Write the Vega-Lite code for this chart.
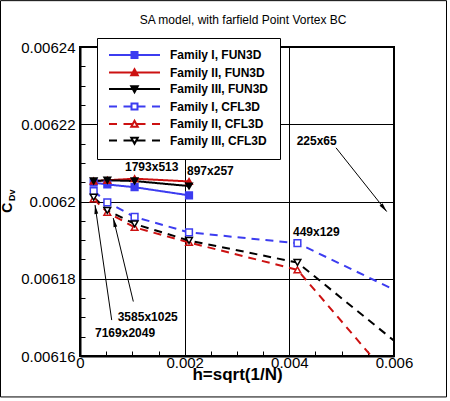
{
  "$schema": "https://vega.github.io/schema/vega-lite/v6.json",
  "width": 314,
  "height": 309,
  "autosize": {"type": "none"},
  "padding": {"left": 80, "top": 47, "right": 56, "bottom": 45},
  "config": {"font": "Liberation Sans", "view": {"stroke": "black", "strokeWidth": 2}},
  "datasets": {
    "series": [
      {"series": "Family I, FUN3D", "h": 0.000261, "cd": 0.0062049},
      {"series": "Family I, FUN3D", "h": 0.000522, "cd": 0.0062044},
      {"series": "Family I, FUN3D", "h": 0.001043, "cd": 0.0062037},
      {"series": "Family I, FUN3D", "h": 0.002083, "cd": 0.0062016},
      {"series": "Family II, FUN3D", "h": 0.000261, "cd": 0.0062053},
      {"series": "Family II, FUN3D", "h": 0.000522, "cd": 0.0062055},
      {"series": "Family II, FUN3D", "h": 0.001043, "cd": 0.0062059},
      {"series": "Family II, FUN3D", "h": 0.002083, "cd": 0.0062052},
      {"series": "Family III, FUN3D", "h": 0.000261, "cd": 0.0062053},
      {"series": "Family III, FUN3D", "h": 0.000522, "cd": 0.0062055},
      {"series": "Family III, FUN3D", "h": 0.001043, "cd": 0.0062053},
      {"series": "Family III, FUN3D", "h": 0.002083, "cd": 0.006204},
      {"series": "Family I, CFL3D", "h": 0.000261, "cd": 0.0062027},
      {"series": "Family I, CFL3D", "h": 0.000522, "cd": 0.0061998},
      {"series": "Family I, CFL3D", "h": 0.001043, "cd": 0.006196},
      {"series": "Family I, CFL3D", "h": 0.002083, "cd": 0.006192},
      {"series": "Family I, CFL3D", "h": 0.004155, "cd": 0.0061892},
      {"series": "Family I, CFL3D", "h": 0.008269, "cd": 0.0061624},
      {"series": "Family II, CFL3D", "h": 0.000261, "cd": 0.0062007},
      {"series": "Family II, CFL3D", "h": 0.000522, "cd": 0.0061972},
      {"series": "Family II, CFL3D", "h": 0.001043, "cd": 0.0061933},
      {"series": "Family II, CFL3D", "h": 0.002083, "cd": 0.0061894},
      {"series": "Family II, CFL3D", "h": 0.004155, "cd": 0.0061823},
      {"series": "Family II, CFL3D", "h": 0.008269, "cd": 0.0061172},
      {"series": "Family III, CFL3D", "h": 0.000261, "cd": 0.0062011},
      {"series": "Family III, CFL3D", "h": 0.000522, "cd": 0.0061977},
      {"series": "Family III, CFL3D", "h": 0.001043, "cd": 0.0061942},
      {"series": "Family III, CFL3D", "h": 0.002083, "cd": 0.0061899},
      {"series": "Family III, CFL3D", "h": 0.004155, "cd": 0.0061842},
      {"series": "Family III, CFL3D", "h": 0.008269, "cd": 0.0061391}
    ],
    "labels": [
      {"text": "1793x513", "h": 0.00086, "cd": 0.006209},
      {"text": "897x257", "h": 0.002045, "cd": 0.006208},
      {"text": "449x129", "h": 0.00407, "cd": 0.0061922},
      {"text": "225x65", "h": 0.00414, "cd": 0.0062157},
      {"text": "3585x1025", "h": 0.00072, "cd": 0.0061702},
      {"text": "7169x2049", "h": 0.000287, "cd": 0.006166}
    ],
    "arrows": [
      {"grid": "225x65", "h": 0.004892, "cd": 0.0062139, "h2": 0.00586, "cd2": 0.0061974},
      {"grid": "3585x1025", "h": 0.001019, "cd": 0.0061741, "h2": 0.000636, "cd2": 0.0061957},
      {"grid": "7169x2049", "h": 0.000606, "cd": 0.0061693, "h2": 0.000287, "cd2": 0.0061991}
    ]
  },
  "resolve": {"axis": {"x": "independent", "y": "independent"}},
  "layer": [
    {
      "layer": [
        {
          "data": {"name": "series"},
          "mark": {"type": "line", "clip": true, "strokeWidth": 2},
          "encoding": {
            "x": {
              "field": "h", "type": "quantitative",
              "scale": {"domain": [0, 0.006], "nice": false, "zero": false},
              "axis": {
                "values": [0, 0.002, 0.004, 0.006], "format": "~g",
                "grid": true, "gridColor": "black", "gridOpacity": 1, "gridWidth": 1,
                "tickSize": -8, "tickColor": "black", "tickWidth": 1,
                "domainColor": "black", "domainWidth": 2,
                "labelFontSize": 15, "labelColor": "black", "labelPadding": 7, "labelFlush": false, "labelOverlap": false,
                "title": "h=sqrt(1/N)", "titleFontSize": 17, "titleFontWeight": "bold", "titleColor": "black", "titlePadding": -4
              }
            },
            "y": {
              "field": "cd", "type": "quantitative",
              "scale": {"domain": [0.00616, 0.00624], "nice": false, "zero": false},
              "axis": {
                "values": [0.00616, 0.00618, 0.0062, 0.00622, 0.00624], "format": "~g",
                "grid": true, "gridColor": "black", "gridOpacity": 1, "gridWidth": 1,
                "tickSize": -8, "tickColor": "black", "tickWidth": 1,
                "domainColor": "black", "domainWidth": 2,
                "labelFontSize": 15, "labelColor": "black", "labelPadding": 13, "labelFlush": false, "labelOverlap": false,
                "title": null
              }
            },
            "detail": {"field": "series", "type": "nominal"},
            "stroke": {
              "condition": [
                {"test": "datum.series === 'Family I, FUN3D' || datum.series === 'Family I, CFL3D'", "value": "#3c3cf0"},
                {"test": "datum.series === 'Family II, FUN3D' || datum.series === 'Family II, CFL3D'", "value": "#cc1111"}
              ],
              "value": "black"
            },
            "strokeDash": {
              "condition": {"test": "datum.series === 'Family I, CFL3D' || datum.series === 'Family II, CFL3D' || datum.series === 'Family III, CFL3D'", "value": [8, 6]},
              "value": [1, 0]
            }
          }
        },
        {
          "data": {"name": "series"},
          "mark": {"type": "point", "clip": true, "filled": true, "opacity": 1, "size": 45, "strokeWidth": 1.5},
          "encoding": {
            "x": {"field": "h", "type": "quantitative"},
            "y": {"field": "cd", "type": "quantitative"},
            "shape": {
              "condition": [
                {"test": "datum.series === 'Family III, FUN3D' || datum.series === 'Family III, CFL3D'", "value": "triangle-down"},
                {"test": "datum.series === 'Family II, FUN3D' || datum.series === 'Family II, CFL3D'", "value": "triangle-up"}
              ],
              "value": "square"
            },
            "stroke": {
              "condition": [
                {"test": "datum.series === 'Family I, FUN3D' || datum.series === 'Family I, CFL3D'", "value": "#3c3cf0"},
                {"test": "datum.series === 'Family II, FUN3D' || datum.series === 'Family II, CFL3D'", "value": "#cc1111"}
              ],
              "value": "black"
            },
            "fill": {
              "condition": [
                {"test": "datum.series === 'Family I, CFL3D' || datum.series === 'Family II, CFL3D' || datum.series === 'Family III, CFL3D'", "value": "white"},
                {"test": "datum.series === 'Family I, FUN3D'", "value": "#3c3cf0"},
                {"test": "datum.series === 'Family II, FUN3D'", "value": "#cc1111"}
              ],
              "value": "black"
            }
          }
        },
        {
          "data": {"name": "arrows"},
          "mark": {"type": "rule", "color": "black", "strokeWidth": 1},
          "encoding": {
            "x": {"field": "h", "type": "quantitative"},
            "y": {"field": "cd", "type": "quantitative"},
            "x2": {"field": "h2"},
            "y2": {"field": "cd2"}
          }
        },
        {
          "data": {"name": "arrows"},
          "transform": [
            {"calculate": "atan2((datum.h2 - datum.h) / 0.006 * 314, (datum.cd2 - datum.cd) / 0.00008 * 309) * 180 / PI", "as": "angle"}
          ],
          "mark": {"type": "point", "shape": "M0,0L0.3,1.4L-0.3,1.4Z", "filled": true, "color": "black", "opacity": 1, "size": 165},
          "encoding": {
            "x": {"field": "h2", "type": "quantitative"},
            "y": {"field": "cd2", "type": "quantitative"},
            "angle": {"field": "angle", "type": "quantitative", "scale": null}
          }
        },
        {
          "data": {"name": "labels"},
          "mark": {"type": "text", "align": "left", "baseline": "middle", "font": "Liberation Sans", "fontSize": 12, "fontWeight": "bold", "color": "black"},
          "encoding": {
            "x": {"field": "h", "type": "quantitative"},
            "y": {"field": "cd", "type": "quantitative"},
            "text": {"field": "text"}
          }
        },
        {
          "data": {"values": [{}]},
          "mark": {"type": "text", "text": "SA model, with farfield Point Vortex BC", "align": "center", "baseline": "middle", "fontSize": 12, "color": "black"},
          "encoding": {
            "x": {"datum": 0.003115, "type": "quantitative"},
            "y": {"datum": 0.006247, "type": "quantitative"}
          }
        },
        {
          "data": {"values": [{}]},
          "mark": {"type": "text", "text": "C", "angle": 270, "align": "center", "baseline": "middle", "fontSize": 14, "fontWeight": "bold", "color": "black"},
          "encoding": {
            "x": {"datum": -0.001385, "type": "quantitative"},
            "y": {"datum": 0.0061984, "type": "quantitative"}
          }
        },
        {
          "data": {"values": [{}]},
          "mark": {"type": "text", "text": "Dv", "angle": 270, "align": "center", "baseline": "middle", "fontSize": 9, "fontWeight": "bold", "color": "black"},
          "encoding": {
            "x": {"datum": -0.00129, "type": "quantitative"},
            "y": {"datum": 0.0062016, "type": "quantitative"}
          }
        },
        {
          "data": {"values": [{}]},
          "mark": {"type": "rect", "filled": false, "stroke": "black", "strokeWidth": 1},
          "encoding": {
            "x": {"datum": -0.001519, "type": "quantitative"},
            "x2": {"datum": 0.0070032},
            "y": {"datum": 0.006252, "type": "quantitative"},
            "y2": {"datum": 0.0061494}
          }
        }
      ]
    },
    {
      "data": {"name": "series"},
      "transform": [{"filter": "datum.h > 1"}],
      "mark": {"type": "point", "filled": true, "opacity": 1},
      "encoding": {
        "x": {
          "field": "h", "type": "quantitative",
          "axis": {
            "orient": "bottom",
            "values": [0.0005, 0.001, 0.0015, 0.0025, 0.003, 0.0035, 0.0045, 0.005, 0.0055],
            "labels": false, "grid": false, "domain": false,
            "tickSize": -5, "tickColor": "black", "tickWidth": 1, "title": null
          }
        },
        "y": {
          "field": "cd", "type": "quantitative",
          "axis": {
            "orient": "left",
            "values": [0.006165, 0.00617, 0.006175, 0.006185, 0.00619, 0.006195, 0.006205, 0.00621, 0.006215, 0.006225, 0.00623, 0.006235],
            "labels": false, "grid": false, "domain": false,
            "tickSize": -5, "tickColor": "black", "tickWidth": 1, "title": null
          }
        },
        "shape": {
          "field": "series", "type": "nominal",
          "scale": {
            "domain": ["Family I, FUN3D", "Family II, FUN3D", "Family III, FUN3D", "Family I, CFL3D", "Family II, CFL3D", "Family III, CFL3D"],
            "range": [
              "M-1,0H9.2M3.5,-0.6H4.7V0.6H3.5Z",
              "M-1,0H9.2M4.1,-0.65L4.75,0.55L3.45,0.55Z",
              "M-1,0H9.2M4.1,0.65L4.75,-0.55L3.45,-0.55Z",
              "M-1,0H0.6M1.9,0H3.5M4.7,0H6.3M7.6,0H9.2M3.5,-0.6H4.7V0.6H3.5Z",
              "M-1,0H0.6M1.9,0H3.7M4.5,0H6.3M7.6,0H9.2M4.1,-0.65L4.75,0.55L3.45,0.55Z",
              "M-1,0H0.6M1.9,0H3.7M4.5,0H6.3M7.6,0H9.2M4.1,0.65L4.75,-0.55L3.45,-0.55Z"
            ]
          },
          "legend": {
            "orient": "none", "legendX": 17, "legendY": -9, "title": null,
            "fillColor": "white", "strokeColor": "black", "padding": 11,
            "symbolSize": 100, "symbolStrokeWidth": 2, "symbolOpacity": 1,
            "labelFont": "Liberation Sans", "labelFontSize": 12, "labelFontWeight": "bold", "labelColor": "black",
            "labelOffset": 50, "rowPadding": 2.5, "labelLimit": 200
          }
        },
        "stroke": {
          "field": "series", "type": "nominal",
          "scale": {
            "domain": ["Family I, FUN3D", "Family II, FUN3D", "Family III, FUN3D", "Family I, CFL3D", "Family II, CFL3D", "Family III, CFL3D"],
            "range": ["#3c3cf0", "#cc1111", "#000000", "#3c3cf0", "#cc1111", "#000000"]
          }
        },
        "fill": {
          "field": "series", "type": "nominal",
          "scale": {
            "domain": ["Family I, FUN3D", "Family II, FUN3D", "Family III, FUN3D", "Family I, CFL3D", "Family II, CFL3D", "Family III, CFL3D"],
            "range": ["#3c3cf0", "#cc1111", "#000000", "white", "white", "white"]
          }
        }
      }
    }
  ]
}
